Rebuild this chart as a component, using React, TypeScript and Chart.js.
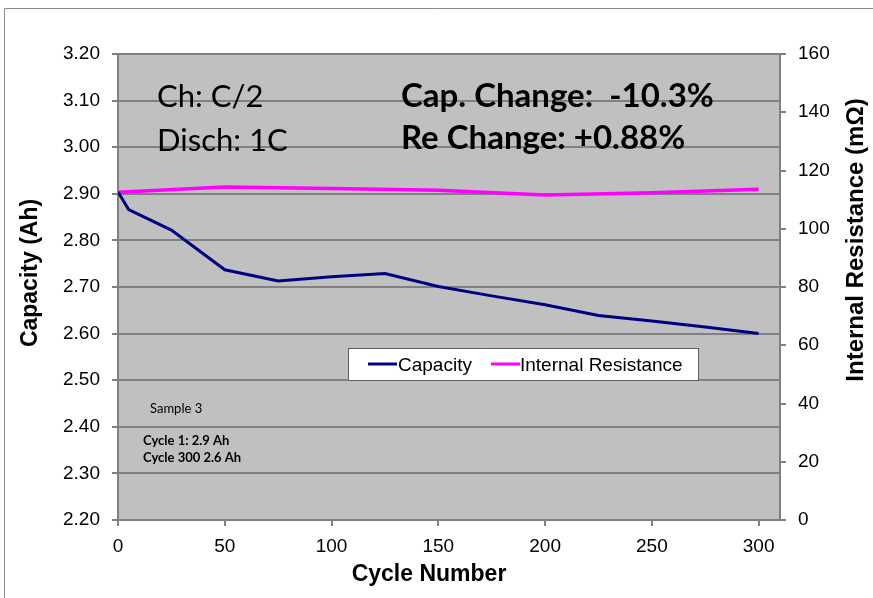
import React, { useEffect, useRef } from "react";
import { Chart, registerables } from "chart.js";

Chart.register(...registerables);

const cycles = [0, 5, 25, 50, 75, 100, 125, 150, 175, 200, 225, 250, 275, 300];
const capacity = [2.904, 2.866, 2.822, 2.737, 2.713, 2.722, 2.729, 2.701, 2.681, 2.662, 2.639, 2.627, 2.614, 2.600];
const resCycles = [0, 50, 100, 150, 200, 250, 300];
const resistance = [112.5, 114.3, 113.8, 113.2, 111.6, 112.4, 113.6];
const xTicks = [0, 50, 100, 150, 200, 250, 300];

const seriesNames = ["Capacity", "Internal Resistance"];
const seriesColors = ["#000080", "#ff00ff"];
const axisTitles = ["Cycle Number", "Capacity (Ah)", "Internal Resistance (mΩ)"];

const AXIS = "Liberation Sans, Arial, sans-serif";
const CAL = "Lato, Carlito, sans-serif";

const overlayPlugin = {
  id: "overlay",
  beforeDraw(chart: any) {
    const { ctx, chartArea: a } = chart;
    ctx.save();
    ctx.fillStyle = "#c0c0c0";
    ctx.fillRect(a.left, a.top, a.right - a.left, a.bottom - a.top);
    ctx.strokeStyle = "#8a8a8a";
    ctx.lineWidth = 1;
    ctx.beginPath();
    ctx.moveTo(4.5, 598);
    ctx.lineTo(4.5, 8.5);
    ctx.lineTo(873, 8.5);
    ctx.stroke();
    ctx.restore();
  },
  afterDraw(chart: any) {
    const { ctx } = chart;
    ctx.save();
    ctx.fillStyle = "#000";
    ctx.textBaseline = "alphabetic";
    ctx.textAlign = "left";
    ctx.font = `31px ${CAL}`;
    ctx.fillText("Ch: C/2", 157, 107);
    ctx.fillText("Disch: 1C", 157, 151);
    ctx.font = `bold 33px ${CAL}`;
    ctx.fillText("Cap. Change:  -10.3%", 401, 107);
    ctx.fillText("Re Change: +0.88%", 401, 149);
    ctx.font = `13px ${CAL}`;
    ctx.fillText("Sample 3", 150, 413);
    ctx.font = `bold 13px ${CAL}`;
    ctx.fillText("Cycle 1: 2.9 Ah", 143, 445);
    ctx.fillText("Cycle 300 2.6 Ah", 143, 462);

    // axis titles
    ctx.textAlign = "center";
    ctx.textBaseline = "middle";
    ctx.font = `bold 23px ${AXIS}`;
    ctx.fillText(axisTitles[0], 429, 575);
    ctx.save();
    ctx.translate(31, 273);
    ctx.rotate(-Math.PI / 2);
    ctx.fillText(axisTitles[1], 0, 0);
    ctx.restore();
    ctx.save();
    ctx.font = `bold 24px ${AXIS}`;
    ctx.translate(856, 240);
    ctx.rotate(-Math.PI / 2);
    ctx.fillText(axisTitles[2], 0, 0);
    ctx.restore();

    // legend box
    ctx.textAlign = "left";
    ctx.textBaseline = "alphabetic";
    const bx = 348, by = 348, bw = 350, bh = 32;
    ctx.fillStyle = "#ffffff";
    ctx.fillRect(bx, by, bw, bh);
    ctx.strokeStyle = "#606060";
    ctx.lineWidth = 1;
    ctx.strokeRect(bx + 0.5, by + 0.5, bw, bh);
    ctx.font = `19px ${AXIS}`;
    const ly = 364;
    const items = [
      { x: 368, tx: 398 },
      { x: 491, tx: 520 },
    ];
    items.forEach((it, i) => {
      ctx.strokeStyle = seriesColors[i];
      ctx.lineWidth = 3;
      ctx.beginPath();
      ctx.moveTo(it.x, ly);
      ctx.lineTo(it.x + 29, ly);
      ctx.stroke();
      ctx.fillStyle = "#000";
      ctx.fillText(seriesNames[i], it.tx, 371);
    });
    ctx.restore();
  },
};

export default function App() {
  const ref = useRef<HTMLCanvasElement>(null);
  useEffect(() => {
    const chart = new Chart(ref.current!, {
      type: "line",
      data: {
        datasets: [
          {
            label: seriesNames[0],
            data: cycles.map((c, i) => ({ x: c, y: capacity[i] })),
            borderColor: seriesColors[0],
            borderWidth: 3,
            pointRadius: 0,
            yAxisID: "y",
            tension: 0,
          },
          {
            label: seriesNames[1],
            data: resCycles.map((c, i) => ({ x: c, y: resistance[i] })),
            borderColor: seriesColors[1],
            borderWidth: 3.5,
            pointRadius: 0,
            yAxisID: "y1",
            tension: 0,
          },
        ],
      },
      options: {
        animation: false,
        responsive: false,
        layout: { padding: { top: 54, left: 0, right: 0, bottom: 0 } },
        plugins: { legend: { display: false }, tooltip: { enabled: false } },
        scales: {
          x: {
            type: "linear",
            min: 0,
            max: 310,
            afterBuildTicks: (s: any) => {
              s.ticks = xTicks.map((v) => ({ value: v }));
            },
            afterFit: (s: any) => {
              s.height = 78;
            },
            ticks: { color: "#000", font: { family: AXIS, size: 19 }, padding: 9, maxRotation: 0, autoSkip: false },
            grid: { drawOnChartArea: false, drawTicks: true, tickLength: 6, color: "#808080", lineWidth: 2 },
            border: { color: "#808080", width: 2 },
          },
          y: {
            type: "linear",
            position: "left",
            min: 2.2,
            max: 3.2,
            afterFit: (s: any) => {
              s.width = 118;
            },
            ticks: {
              stepSize: 0.1,
              color: "#000",
              font: { family: AXIS, size: 19 },
              padding: 12,
              callback: (v: any) => Number(v).toFixed(2),
            },
            grid: { color: "#808080", lineWidth: 2, tickLength: 6 },
            border: { color: "#808080", width: 2 },
          },
          y1: {
            type: "linear",
            position: "right",
            min: 0,
            max: 160,
            afterFit: (s: any) => {
              s.width = 93;
            },
            ticks: { stepSize: 20, color: "#000", font: { family: AXIS, size: 19 }, padding: 12 },
            grid: { drawOnChartArea: false, color: "#808080", lineWidth: 2, tickLength: 6 },
            border: { color: "#808080", width: 2 },
          },
        },
      },
      plugins: [overlayPlugin],
    } as any);
    return () => chart.destroy();
  }, []);
  return (
    <div style={{ position: "fixed", left: 0, top: 0, width: 873, height: 598, background: "#fff" }}>
      <canvas ref={ref} width={873} height={598} style={{ width: 873, height: 598 }} />
    </div>
  );
}
